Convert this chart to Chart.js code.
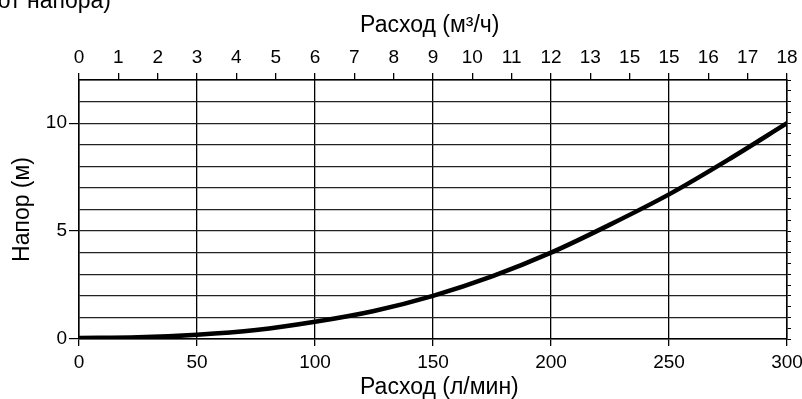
<!DOCTYPE html>
<html>
<head>
<meta charset="utf-8">
<script src="https://cdn.jsdelivr.net/npm/chart.js@4/dist/chart.umd.min.js"></script>
<style>
  html, body { margin: 0; padding: 0; background: #fff; }
  #wrap { position: relative; width: 802px; height: 399px; overflow: hidden; }
  #cap { position: absolute; right: 691px; top: -11.5px; font: 23px/23px "Liberation Sans", Arial, sans-serif; color: #000; white-space: nowrap; }
  canvas { position: absolute; left: 0; top: 0; }
</style>
</head>
<body>
<div id="wrap">
  <canvas id="c" width="802" height="399"></canvas>
  <div id="cap">от напора)</div>
</div>
<script>
// Flow in l/min (bottom axis) and head in m
const flowLmin = [0, 25, 50, 75, 100, 125, 150, 175, 200, 225, 250, 275, 300];
const headM    = [0.05, 0.08, 0.2, 0.42, 0.8, 1.3, 2.0, 2.9, 4.0, 5.3, 6.7, 8.3, 10.0];
// Top axis tick labels (m3/h) as printed in the reference
const topTickLabels = ["0","1","2","3","4","5","6","7","8","9","10","11","12","13","15","15","16","17","18"];
const leftTickValues = [0, 5, 10];

const FONT = "'Liberation Sans', Arial, Helvetica, sans-serif";
const TICK_FONT = { family: FONT, size: 19 };
const TITLE_FONT = { family: FONT, size: 23, lineHeight: 1.0 };
const pts = flowLmin.map((x, i) => ({ x: x, y: headM[i] }));

const noPad = s => { s.paddingLeft = 0; s.paddingRight = 0; s.paddingTop = 0; s.paddingBottom = 0; };

new Chart(document.getElementById('c'), {
  type: 'line',
  data: {
    datasets: [{
      data: pts,
      borderColor: '#000',
      borderWidth: 4.5,
      pointRadius: 0,
      cubicInterpolationMode: 'monotone',
      fill: false
    }]
  },
  options: {
    responsive: false,
    animation: false,
    devicePixelRatio: 1,
    layout: { padding: 0 },
    plugins: { legend: { display: false }, tooltip: { enabled: false } },
    scales: {
      x: {
        type: 'linear', position: 'bottom', min: 0, max: 300,
        afterFit: s => { s.height = 60; noPad(s); },
        ticks: { stepSize: 50, color: '#000', font: TICK_FONT, padding: 5, maxRotation: 0, autoSkip: false },
        grid: { color: '#000', lineWidth: 1.3, tickLength: 7, tickColor: '#000' },
        border: { color: '#000', width: 1.5 },
        title: { display: true, text: '  Расход (л/мин)', color: '#000', font: TITLE_FONT, padding: { top: 0, bottom: 0 } }
      },
      x2: {
        type: 'linear', position: 'top', min: 0, max: 18,
        afterFit: s => { s.height = 80; noPad(s); },
        afterBuildTicks: s => { s.ticks = topTickLabels.map((_, i) => ({ value: i })); },
        ticks: { color: '#000', font: TICK_FONT, padding: 4, maxRotation: 0, autoSkip: false,
                 callback: (v, i) => topTickLabels[i] },
        grid: { drawOnChartArea: false, tickLength: 7, tickColor: '#000', lineWidth: 1.3 },
        border: { color: '#000', width: 1.5 },
        title: { display: true, text: 'Расход (м³/ч) ', color: '#000', font: TITLE_FONT, padding: { top: 14.5, bottom: 0 } }
      },
      y: {
        type: 'linear', position: 'left', min: 0, max: 12,
        afterFit: s => { s.width = 79; noPad(s); },
        ticks: { stepSize: 1, color: '#000', font: TICK_FONT, padding: 2, autoSkip: false,
                 callback: v => leftTickValues.includes(v) ? String(v) : '' },
        grid: { color: '#222', lineWidth: 1.2, tickLength: 10,
                tickColor: ctx => leftTickValues.includes(ctx.tick && ctx.tick.value) ? '#000' : 'rgba(0,0,0,0)' },
        border: { color: '#000', width: 1.5 },
        title: { display: true, text: 'Напор (м)', color: '#000', font: TITLE_FONT, padding: { top: 11.5, bottom: 0 } }
      },
      y2: {
        type: 'linear', position: 'right', min: 0, max: 12,
        afterFit: s => { s.width = 15; noPad(s); },
        ticks: { stepSize: 0.5, display: true, callback: () => '', padding: 0, autoSkip: false },
        grid: { drawOnChartArea: false, tickLength: 4, tickColor: '#000', lineWidth: 1 },
        border: { color: '#000', width: 1.5 }
      }
    }
  }
});
</script>
</body>
</html>
